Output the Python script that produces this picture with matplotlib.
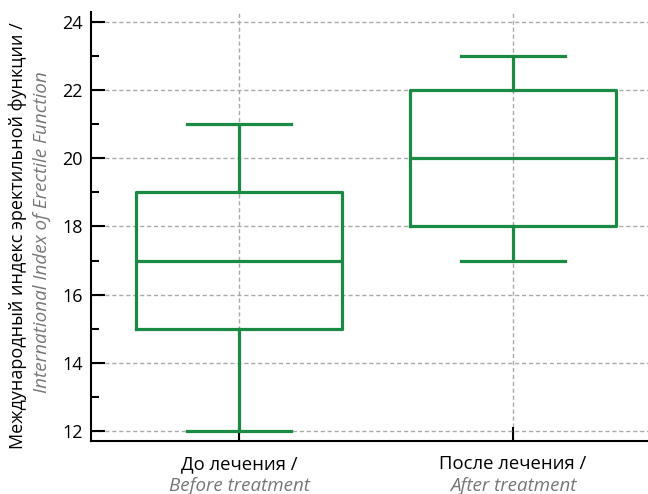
import matplotlib
matplotlib.use("Agg")
from matplotlib import pyplot as plt
from matplotlib import transforms
from matplotlib.ticker import MultipleLocator

plt.rcParams['font.family'] = ['Open Sans', 'DejaVu Sans']

# данные
groups_ru = ['До лечения /', 'После лечения /']
groups_en = ['Before treatment', 'After treatment']
whislo = [12, 17]
q1 = [15, 18]
med = [17, 20]
q3 = [19, 22]
whishi = [21, 23]

green = '#1b8a45'
grey = '#777777'

stats = []
for i in range(len(groups_ru)):
    stats.append(dict(whislo=whislo[i], q1=q1[i], med=med[i], q3=q3[i],
                      whishi=whishi[i], fliers=[], label=groups_ru[i]))

fig = plt.figure(figsize=(6.48, 4.94), dpi=100)
ax = fig.add_axes([91 / 648, 1 - 441 / 494, 1 - 91 / 648, (441 - 12) / 494])

lw = 2.3
ax.bxp(stats, positions=range(len(stats)), widths=0.755, showfliers=False,
       boxprops=dict(color=green, linewidth=lw),
       medianprops=dict(color=green, linewidth=lw),
       whiskerprops=dict(color=green, linewidth=lw),
       capprops=dict(color=green, linewidth=lw),
       capwidths=0.38, zorder=3)

ax.set_xlim(-0.54, 1.493)
ax.set_ylim(11.707, 24.29)
ax.yaxis.set_major_locator(MultipleLocator(2))
ax.yaxis.set_minor_locator(MultipleLocator(1))
ax.grid(True, which='major', color='#aaaaaa', linestyle=(0, (3, 2)), linewidth=1)
ax.set_axisbelow(True)

for s in ['top', 'right']:
    ax.spines[s].set_visible(False)
for s in ['left', 'bottom']:
    ax.spines[s].set_linewidth(1.5)

ax.tick_params(axis='y', which='major', direction='in', length=10, width=1.5,
               labelsize=13, pad=6)
ax.tick_params(axis='y', which='minor', direction='in', length=6, width=1.5)
ax.tick_params(axis='x', which='major', direction='in', length=10, width=1.5,
               labelsize=13.3, pad=10)
ax.set_xticks(range(len(groups_ru)))
ax.set_xticklabels(groups_ru)

trans = transforms.blended_transform_factory(ax.transData, fig.transFigure)
for i, t in enumerate(groups_en):
    ax.text(i, 1 - 486 / 494, t, transform=trans, ha='center', va='center',
            fontsize=13.5, style='italic', color=grey)

fig.text(18 / 648, 0.5 + 11 / 494, 'Международный индекс эректильной функции /',
         rotation=90, ha='center', va='center', fontsize=13)
fig.text(42 / 648, 0.5 + 15 / 494, 'International Index of Erectile Function',
         rotation=90, ha='center', va='center', fontsize=13.6,
         style='italic', color=grey)

fig.savefig('out.png', dpi=100)
